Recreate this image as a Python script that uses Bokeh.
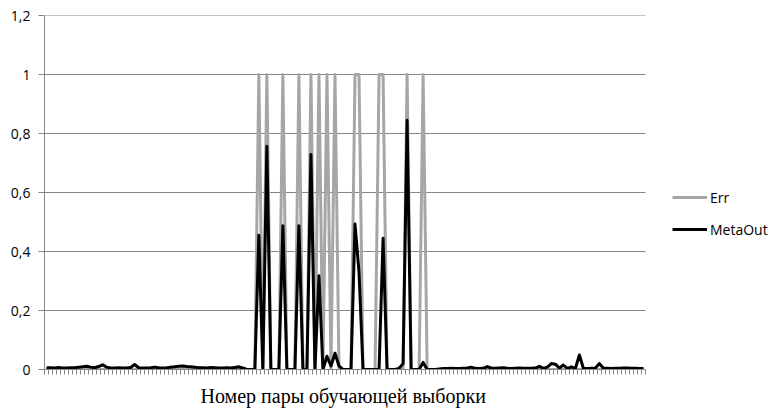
from bokeh.plotting import figure
from bokeh.models import FixedTicker, CustomJSTickFormatter, Legend, LegendItem, Range1d, Title
from bokeh.embed import file_html
from bokeh.resources import INLINE

# ---- data ----
pair_numbers = list(range(1, 151))

err = [0] * 150
err_ones = [53, 55, 59, 63, 66, 68, 70, 72, 77, 78, 83, 84, 90, 94]

meta_out = [
    0.006, 0.006, 0.005, 0.007, 0.005, 0.005, 0.006, 0.006, 0.008, 0.009,
    0.011, 0.008, 0.006, 0.010, 0.016, 0.008, 0.005, 0.005, 0.006, 0.005,
    0.005, 0.007, 0.017, 0.006, 0.005, 0.005, 0.006, 0.008, 0.006, 0.005,
    0.006, 0.008, 0.009, 0.011, 0.012, 0.010, 0.009, 0.008, 0.006, 0.006,
    0.005, 0.007, 0.006, 0.005, 0.005, 0.006, 0.005, 0.007, 0.009, 0.005,
    0.0, 0.0, 0.0, 0.455, 0.0, 0.757, 0.0, 0.0, 0.0, 0.487,
    0.0, 0.0, 0.0, 0.487, 0.0, 0.0, 0.729, 0.0, 0.318, 0.0,
    0.045, 0.012, 0.055, 0.012, 0.0, 0.0, 0.0, 0.493, 0.33, 0.0,
    0.0, 0.0, 0.0, 0.0, 0.445, 0.0, 0.0, 0.0, 0.004, 0.02,
    0.845, 0.0, 0.0, 0.0, 0.024, 0.0, 0.0, 0.0, 0.002, 0.003,
    0.003, 0.004, 0.003, 0.003, 0.004, 0.005, 0.008, 0.004, 0.003, 0.004,
    0.010, 0.005, 0.004, 0.005, 0.006, 0.004, 0.003, 0.004, 0.005, 0.004,
    0.004, 0.004, 0.005, 0.011, 0.004, 0.008, 0.020, 0.018, 0.005, 0.015,
    0.004, 0.009, 0.004, 0.049, 0.004, 0.003, 0.004, 0.005, 0.020, 0.004,
    0.004, 0.003, 0.004, 0.004, 0.005, 0.005, 0.004, 0.004, 0.003, 0.003,
]
for k in err_ones:
    err[k] = 1

y_ticks = [0, 0.2, 0.4, 0.6, 0.8, 1.0, 1.2]
x_title = "Номер пары обучающей выборки"

N = len(pair_numbers)
# category centres on a numeric axis (category n sits in [n-1, n])
xs = [n - 0.5 for n in pair_numbers]

GRID = "#868686"
FONT = "Open Sans"

# layout (pixels): axis part of the frame is 601 px wide, frame extends to the
# right edge so that the legend can sit beside the axis
AXIS_PX = 601
FRAME_W = 728
FRAME_H = 354

p = figure(frame_width=FRAME_W, frame_height=FRAME_H, output_backend="svg",
           toolbar_location=None,
           x_range=Range1d(0, N * FRAME_W / AXIS_PX), y_range=Range1d(0, 1.2),
           min_border_left=44, min_border_right=0, min_border_top=15,
           min_border_bottom=0)
p.outline_line_color = None
p.background_fill_color = "white"
p.border_fill_color = "white"

p.xgrid.visible = False
p.ygrid.visible = False
# horizontal gridlines only across the category axis
p.segment(x0=[0] * len(y_ticks), x1=[N] * len(y_ticks), y0=y_ticks, y1=y_ticks,
          line_color=GRID, line_width=1)

p.yaxis.ticker = FixedTicker(ticks=y_ticks)
p.yaxis.formatter = CustomJSTickFormatter(
    code="var s = (Math.round(tick*10)/10).toString(); return s.replace('.', ',');")
p.yaxis.axis_line_color = GRID
p.yaxis.major_tick_line_color = GRID
p.yaxis.major_tick_out = 6
p.yaxis.major_tick_in = 0
p.yaxis.minor_tick_line_color = None
p.yaxis.major_label_standoff = 8
p.yaxis.major_label_text_font = FONT
p.yaxis.major_label_text_font_size = "14px"
p.yaxis.major_label_text_color = "#000000"

p.xaxis.bounds = (0, N)
p.xaxis.ticker = FixedTicker(ticks=list(range(0, N + 1)))
p.xaxis.formatter = CustomJSTickFormatter(code="return '';")
p.xaxis.axis_line_color = GRID
p.xaxis.major_tick_line_color = GRID
p.xaxis.major_tick_out = 5
p.xaxis.major_tick_in = 0
p.xaxis.minor_tick_line_color = None
p.xaxis.major_label_standoff = 0

title = Title(text=x_title, align="left", offset=156,
              text_font="Liberation Serif", text_font_style="normal",
              text_font_size="20px", text_color="#000000", standoff=16)
p.add_layout(title, "below")

r_err = p.line(xs, err, line_color="#A6A6A6", line_width=3, line_join="round")
r_meta = p.line(xs, meta_out, line_color="#000000", line_width=3, line_join="round")

legend = Legend(items=[LegendItem(label="Err", renderers=[r_err]),
                       LegendItem(label="MetaOut", renderers=[r_meta])],
                location=(628, 130), orientation="vertical",
                glyph_width=35, glyph_height=20, label_height=20,
                label_standoff=3, spacing=12, padding=0, margin=0,
                border_line_alpha=0, background_fill_alpha=0,
                label_text_font=FONT, label_text_font_size="14px",
                label_text_color="#000000")
p.add_layout(legend, "center")

open("out.html", "w").write(file_html(p, INLINE))
